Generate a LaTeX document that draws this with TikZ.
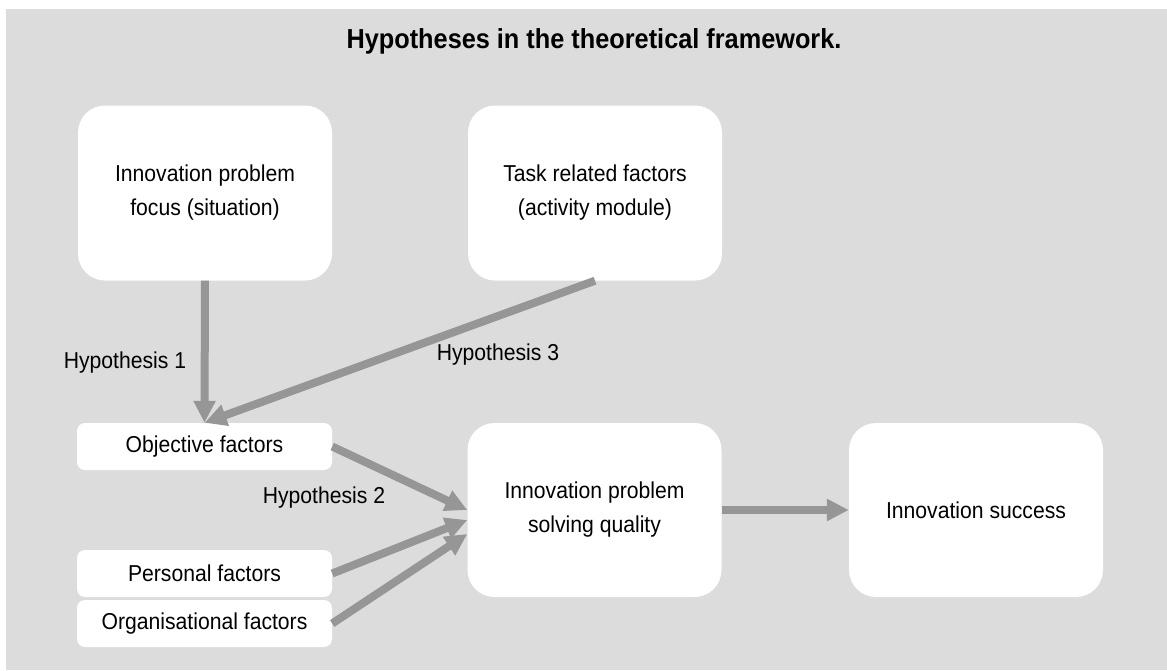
\documentclass[tikz,border=0pt]{standalone}
\usepackage{fontspec}
\setmainfont{Liberation Sans}[FakeStretch=0.92]
\usetikzlibrary{arrows.meta,calc}
\definecolor{panel}{HTML}{DCDCDC}
\definecolor{link}{HTML}{969696}
\tikzset{
  bigbox/.style={fill=white, draw=none, rounded corners=27pt, minimum width=254pt,
    minimum height=175pt, inner sep=0pt, align=center, font=\fontsize{23}{34}\selectfont},
  factorbox/.style={fill=white, draw=none, rounded corners=8pt, minimum width=255pt,
    minimum height=47pt, inner sep=0pt, align=center, font=\fontsize{23}{34}\selectfont},
  hyplabel/.style={anchor=base, inner sep=0pt, font=\fontsize{23}{28}\selectfont},
  link/.style={draw=link, line width=8pt,
    -{Triangle[length=22pt, width=21pt]}},
}
\begin{document}
\begin{tikzpicture}[x=1pt, y=-1pt]
  \useasboundingbox (0,0) rectangle (1167,670);
  \fill[white] (0,0) rectangle (1167,670);
  \fill[panel] (6,9) rectangle (1167,670);

  \node[anchor=base, inner sep=0pt, font=\fontsize{27.5}{32}\selectfont\bfseries] (title)
    at (594,48) {Hypotheses in the theoretical framework.};

  % upper situation and task boxes
  \node[bigbox] (focus) at (205,193) {Innovation problem\\focus (situation)};
  \node[bigbox] (task)  at (595,193) {Task related factors\\(activity module)};

  % factor boxes on the left
  \node[factorbox] (obj)  at (204.5,446.5) {Objective factors};
  \node[factorbox] (pers) at (204.5,573.5) {Personal factors};
  \node[factorbox] (org)  at (204.5,623.5) {Organisational factors};

  % quality and success
  \node[bigbox, minimum height=174pt] (quality) at (594.5,510) {Innovation problem\\solving quality};
  \node[bigbox, minimum height=174pt] (success) at (976,510) {Innovation success};

  % hypotheses
  \draw[link] (focus.south) -- (obj.north);
  \draw[link] (task.south) -- (obj.north);
  \draw[link] (obj.east) -- (quality.west);
  \draw[link] (pers.east) -- ($(quality.west)+(0,10)$);
  \draw[link] (org.east) -- ($(quality.west)+(0,24)$);
  \draw[link] (quality.east) -- (success.west);

  \node[hyplabel] (h1) at (125,368) {Hypothesis 1};
  \node[hyplabel] (h3) at (498,360) {Hypothesis 3};
  \node[hyplabel] (h2) at (324,503) {Hypothesis 2};
\end{tikzpicture}
\end{document}
